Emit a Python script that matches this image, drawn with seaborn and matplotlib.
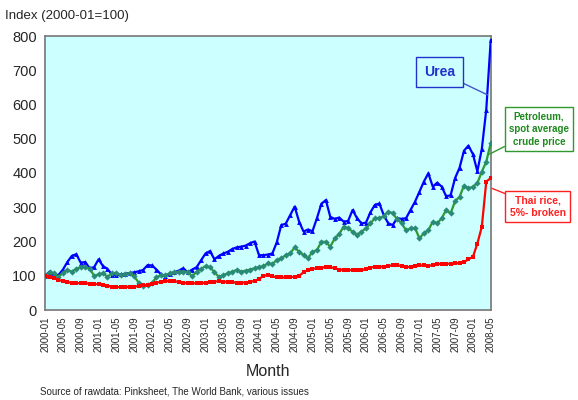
import numpy as np
import pandas as pd
import matplotlib
matplotlib.use("Agg")
import matplotlib.pyplot as plt
import seaborn as sns

# monthly index values, 2000-01 .. 2008-05 (2000-01 = 100)
months = [str(p) for p in pd.period_range("2000-01", "2008-05", freq="M")]

urea = [100, 112, 100, 102, 118, 140, 158, 163, 138, 140,
        122, 125, 148, 128, 120, 103, 101, 104, 106, 108,
        110, 113, 117, 131, 130, 118, 104, 100, 104, 110,
        115, 122, 110, 118, 125, 145, 165, 172, 148, 158,
        165, 170, 178, 183, 185, 188, 195, 200, 160, 160,
        162, 165, 198, 248, 252, 277, 302, 258, 229, 235,
        230, 268, 310, 321, 272, 266, 270, 258, 260, 292,
        268, 253, 255, 285, 307, 311, 277, 253, 248, 268,
        266, 268, 292, 316, 345, 375, 399, 360, 372, 360,
        332, 335, 385, 415, 465, 480, 455, 405, 470, 585,
        788]

petroleum = [100, 110, 107, 97, 108, 117, 112, 120, 126, 126,
             121, 100, 104, 107, 97, 107, 108, 102, 105, 107,
             98, 80, 70, 72, 80, 95, 102, 102, 107, 110,
             112, 112, 112, 98, 112, 120, 128, 125, 110, 97,
             102, 107, 112, 117, 112, 115, 118, 122, 125, 128,
             136, 134, 146, 151, 160, 165, 183, 170, 160, 151,
             170, 175, 199, 199, 185, 209, 222, 243, 238, 229,
             219, 229, 238, 253, 268, 268, 274, 287, 283, 265,
             253, 233, 238, 240, 209, 224, 233, 258, 253, 268,
             292, 282, 318, 330, 363, 355, 360, 370, 404, 433,
             487]

thai_rice = [100, 96, 93, 88, 84, 81, 80, 79, 78, 78,
             77, 76, 75, 73, 71, 68, 67, 67, 67, 68,
             68, 70, 72, 73, 77, 80, 82, 84, 85, 84,
             82, 80, 78, 78, 78, 78, 80, 82, 83, 84,
             83, 82, 81, 80, 80, 80, 82, 85, 90, 100,
             102, 98, 96, 95, 95, 96, 97, 100, 110, 117,
             120, 122, 124, 125, 125, 122, 118, 117, 116, 117,
             116, 116, 120, 124, 126, 126, 127, 128, 131, 131,
             128, 125, 126, 128, 130, 130, 129, 131, 134, 135,
             135, 135, 136, 137, 140, 148, 155, 194, 243, 375,
             385]

y_ticks = [0, 100, 200, 300, 400, 500, 600, 700, 800]

df = pd.DataFrame({"idx": np.arange(len(months)), "month": months,
                   "urea": urea, "petroleum": petroleum, "rice": thai_rice})

sns.set_style("white")
plt.rcParams["font.family"] = ["Liberation Sans", "DejaVu Sans"]

fig = plt.figure(figsize=(5.78, 4.0), dpi=100)
ax = fig.add_axes([0.078, 0.225, 0.771, 0.685])
ax.set_facecolor("#ccffff")

sns.lineplot(data=df, x="idx", y="urea", ax=ax, color="#0000ff", lw=1.6,
             marker="^", markersize=3.5, markeredgewidth=0, zorder=3)
sns.lineplot(data=df, x="idx", y="petroleum", ax=ax, color="#2e9a2e", lw=1.6,
             marker="D", markersize=3.2, markerfacecolor="#2a8a78",
             markeredgewidth=0, zorder=3)
sns.lineplot(data=df, x="idx", y="rice", ax=ax, color="#ff0000", lw=1.6,
             marker="s", markersize=3, markeredgewidth=0, zorder=3)

ax.set_xlim(0, len(months) - 1)
ax.set_ylim(0, 800)
ax.set_yticks(y_ticks)
ax.set_yticklabels([str(v) for v in y_ticks], fontsize=10.5)
ax.tick_params(axis="y", direction="in", length=7, width=1, color="#333333", pad=6)

ax.set_xticks(df["idx"][::4])
ax.set_xticklabels(df["month"][::4], rotation=90, fontsize=7)
ax.set_xticks(df["idx"], minor=True)
ax.tick_params(axis="x", which="both", direction="out", length=2.5, width=0.8,
               color="#555555", pad=2)

for s in ax.spines.values():
    s.set_color("#7f7f7f")
    s.set_linewidth(1.3)

ax.set_xlabel("Month", fontsize=11.5, labelpad=9)
ax.set_ylabel("")

fig.text(0.008, 0.96, "Index (2000-01=100)", fontsize=9.5, ha="left", va="center")
fig.text(0.07, 0.02, "Source of rawdata: Pinksheet, The World Bank, various issues",
         fontsize=7, ha="left", va="center")

n = len(months) - 1
ax.annotate("Urea", xy=(n - 0.7, 628), xytext=(n - 11.5, 695),
            fontsize=10, fontweight="bold", color="#2233cc", ha="center", va="center",
            bbox=dict(boxstyle="square,pad=0.55", fc="#ccffff", ec="#2233cc", lw=1),
            arrowprops=dict(arrowstyle="-", color="#4455cc", lw=1,
                            shrinkA=0, shrinkB=0),
            annotation_clip=False, zorder=4)
ax.annotate("Petroleum,\nspot average\ncrude price", xy=(n - 0.3, 455),
            xytext=(n + 10.8, 528), fontsize=7, fontweight="bold",
            color="#1e8a1e", ha="center", va="center", linespacing=1.35,
            bbox=dict(boxstyle="square,pad=0.4", fc="white", ec="#2e9a2e", lw=1),
            arrowprops=dict(arrowstyle="-", color="#2e9a2e", lw=1,
                            shrinkA=0, shrinkB=0),
            annotation_clip=False, zorder=4)
ax.annotate("Thai rice,\n5%- broken", xy=(n + 0.3, 355), xytext=(n + 10.5, 302),
            fontsize=7.5, fontweight="bold", color="#ff2020", ha="center",
            va="center", linespacing=1.35,
            bbox=dict(boxstyle="square,pad=0.4", fc="white", ec="#ff2020", lw=1),
            arrowprops=dict(arrowstyle="-", color="#ff2020", lw=1,
                            shrinkA=0, shrinkB=0),
            annotation_clip=False, zorder=4)

fig.savefig("out.png", dpi=100)
